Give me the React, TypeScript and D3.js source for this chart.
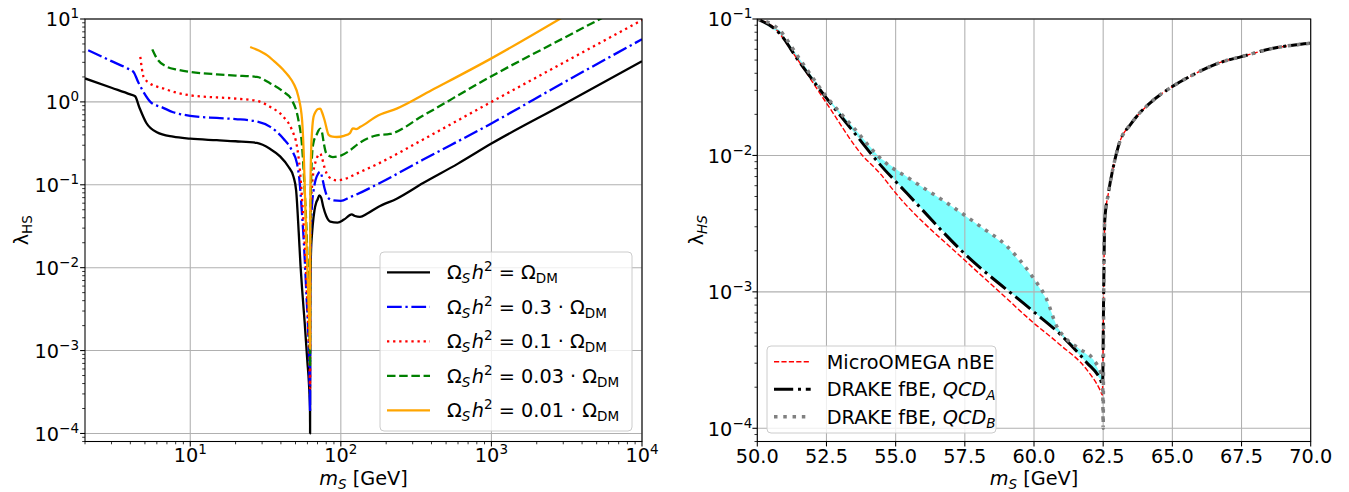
import * as d3 from "d3";

const FONT = "'DejaVu Sans', 'Liberation Sans', sans-serif";
const FS = 19.3;
const SUB = 13.5;
const SUP_DY = 8;

// ---- left panel: relic density scans, lambda_HS vs m_S (log-log)
const massDM = [2, 3, 4, 4.3, 4.6, 5.1, 6, 7.7, 10, 15, 20, 27.7, 34, 39.5, 44.9, 48.5, 50.5, 52.5, 54, 55.4, 57.5, 60, 61, 61.9, 62.4, 62.5, 62.53, 62.6, 62.9, 63.5, 64.2, 65, 66.8, 68.6, 70, 72, 74, 76.5, 80, 85, 95, 105, 118, 124, 134, 150, 177, 235, 352, 600, 1000, 3000, 10000];
const lambdaDM = [1.92, 1.48, 1.23, 1.17, 0.85, 0.56, 0.43, 0.38, 0.36, 0.345, 0.335, 0.32, 0.27, 0.22, 0.165, 0.125, 0.085, 0.027, 0.0105, 0.0053, 0.0022, 7.2e-4, 4.9e-4, 3.0e-4, 2.0e-4, 1.0e-4, 1.1e-3, 4e-3, 8.3e-3, 0.0173, 0.0242, 0.032, 0.049, 0.061, 0.066, 0.0745, 0.07, 0.054, 0.042, 0.036, 0.035, 0.038, 0.044, 0.042, 0.041, 0.045, 0.054, 0.068, 0.105, 0.18, 0.314, 0.93, 3.1];

const mass03 = [2.1, 3, 3.8, 4.2, 4.5, 4.9, 5.5, 6.5, 7.7, 10, 15, 20, 27.7, 34, 41.6, 47.3, 51.2, 53.2, 55, 57, 59, 61, 62, 62.5, 62.55, 62.8, 63.5, 64.5, 65.9, 68, 70.5, 73, 75, 78, 82, 88.5, 100, 115, 124, 183, 350, 1000, 3000, 10000];
const lambda03 = [4.2, 3.1, 2.55, 2.3, 1.75, 1.31, 0.98, 0.86, 0.75, 0.68, 0.64, 0.62, 0.58, 0.5, 0.36, 0.26, 0.18, 0.11, 0.05, 0.018, 0.005, 1.3e-3, 4e-4, 1.8e-4, 2e-3, 0.012, 0.035, 0.06, 0.085, 0.115, 0.135, 0.143, 0.125, 0.09, 0.07, 0.065, 0.064, 0.071, 0.075, 0.106, 0.2, 0.55, 1.7, 5.7];

const mass01 = [4.66, 4.9, 5.4, 6.65, 8, 10, 19.4, 27.7, 34, 41.6, 47.3, 51.2, 53.5, 55.5, 57.5, 59.5, 61.2, 62.1, 62.5, 62.55, 62.8, 63.5, 64.5, 66, 68, 70.5, 73, 75, 78, 83, 94, 110, 124, 183, 350, 1000, 3000, 10000];
const lambda01 = [3.5, 2.0, 1.67, 1.45, 1.3, 1.2, 1.1, 1.03, 0.87, 0.66, 0.46, 0.286, 0.15, 0.06, 0.02, 0.005, 1.3e-3, 6e-4, 3.5e-4, 3e-3, 0.02, 0.06, 0.1, 0.15, 0.19, 0.225, 0.238, 0.21, 0.16, 0.125, 0.113, 0.12, 0.133, 0.185, 0.35, 1.0, 2.96, 9.7];

const mass003 = [5.6, 6.0, 7.0, 8.2, 10, 15, 20, 27.7, 34, 41.6, 47.3, 52.3, 55.3, 57.3, 59.3, 61, 62, 62.5, 62.55, 62.8, 63.5, 64.5, 66, 69, 71, 73, 75, 77, 80, 88.5, 100, 115, 130, 173, 212, 350, 980, 3000, 5600];
const lambda003 = [4.3, 3.35, 2.65, 2.45, 2.3, 2.15, 2.08, 2.0, 1.67, 1.32, 1.05, 0.6, 0.29, 0.1, 0.025, 5e-3, 1.5e-3, 6.3e-4, 5e-3, 0.04, 0.12, 0.24, 0.33, 0.4, 0.45, 0.477, 0.43, 0.32, 0.24, 0.216, 0.225, 0.26, 0.31, 0.395, 0.41, 0.68, 2.0, 5.85, 10.6];

const mass001 = [25, 29, 32.3, 36, 41.6, 45, 48.5, 52.3, 55.3, 56.7, 58, 59.5, 61, 62, 62.5, 62.55, 62.8, 63.5, 64.5, 65.9, 68, 70.5, 73, 75, 78, 83, 88, 94, 105, 115, 120, 126, 135, 178, 235, 400, 1000, 3000];
const lambda001 = [4.6, 4.1, 3.67, 3.1, 2.42, 2.05, 1.67, 1.15, 0.6, 0.24, 0.06, 0.015, 4e-3, 1.8e-3, 1.05e-3, 0.01, 0.08, 0.25, 0.46, 0.66, 0.76, 0.82, 0.83, 0.75, 0.6, 0.4, 0.38, 0.377, 0.39, 0.42, 0.48, 0.47, 0.5, 0.69, 0.83, 1.38, 3.35, 10.6];

const omegaFractions = ["", "0.3", "0.1", "0.03", "0.01"];

// ---- right panel: zoom on the Higgs resonance (linear x, log y)
const massMicro = [50, 50.7, 51.2, 52.5, 53.8, 54.43, 55.0, 57.45, 58.8, 59.97, 60.94, 61.9, 62.39, 62.47];
const lambdaMicro = [0.1, 0.083, 0.06, 0.0242, 0.01, 0.0074, 0.0053, 0.00174, 0.00098, 5.96e-4, 4.1e-4, 2.7e-4, 1.9e-4, 1.75e-4];

const massDrakeA = [50, 50.8, 51.5, 52.5, 53.5, 54.43, 55.4, 57.45, 59.97, 60.94, 61.9, 62.39, 62.48];
const lambdaDrakeA = [0.1, 0.0786, 0.049, 0.0263, 0.0147, 0.0086, 0.0053, 0.00194, 7.2e-4, 4.9e-4, 3.04e-4, 2.3e-4, 2.1e-4];

const massDrakeB = [50, 50.8, 51.5, 52.5, 53.5, 54.43, 55.64, 56.84, 58.05, 59.01, 59.97, 60.46, 60.82, 61.18, 61.66, 62.14, 62.48, 62.5];
const lambdaDrakeB = [0.1, 0.083, 0.052, 0.027, 0.0158, 0.0096, 0.00647, 0.0045, 0.00303, 0.00217, 0.00127, 8.8e-4, 5.6e-4, 4.5e-4, 3.8e-4, 3.2e-4, 2.3e-4, 1.0e-4];

// branch above the resonance, shared by all three calculations
const massRise = [62.52, 62.56, 62.69, 62.87, 63.05, 63.53, 64.19, 65.0, 65.64, 66.84, 67.5, 68.65, 70];
const lambdaRise = [1.1e-3, 3.4e-3, 5.3e-3, 8.3e-3, 0.0117, 0.0173, 0.0242, 0.032, 0.038, 0.0488, 0.053, 0.061, 0.0664];

const leftXTicks = [10, 100, 1000, 10000];
const leftYTicks = [1e-4, 1e-3, 1e-2, 1e-1, 1, 10];
const rightXTicks = [50, 52.5, 55, 57.5, 60, 62.5, 65, 67.5, 70];
const rightYTicks = [1e-4, 1e-3, 1e-2, 1e-1];

const zip = (m: number[], l: number[]) => m.map((v, i) => [v, l[i]] as [number, number]);

const GRID = "#b0b0b0";

function Pow({ x, y, v, anchor }: { x: number; y: number; v: number; anchor: string }) {
  const e = Math.round(Math.log10(v));
  const s = e < 0 ? `\u2212${-e}` : `${e}`;
  return (
    <text x={x} y={y} textAnchor={anchor} fontFamily={FONT} fontSize={FS} fill="#000">
      10<tspan fontSize={SUB} dy={-SUP_DY}>{s}</tspan>
    </text>
  );
}

function LeftLegendLabel({ x, y, coef }: { x: number; y: number; coef: string }) {
  return (
    <text x={x} y={y} fontFamily={FONT} fontSize={FS} fill="#000">
      Ω<tspan fontSize={SUB} fontStyle="italic" dy={4}>S</tspan>
      <tspan fontStyle="italic" dy={-4} dx={1.5}>h</tspan>
      <tspan fontSize={SUB} dy={-SUP_DY}>2</tspan>
      <tspan dy={SUP_DY}>{` = ${coef ? coef + " · " : ""}Ω`}</tspan>
      <tspan fontSize={SUB} dy={4}>DM</tspan>
    </text>
  );
}

function MassLabel({ x }: { x: number }) {
  return (
    <text x={x} y={485} textAnchor="middle" fontFamily={FONT} fontSize={FS} fill="#000">
      <tspan fontStyle="italic">m</tspan>
      <tspan fontSize={SUB} fontStyle="italic" dy={3.5}>S</tspan>
      <tspan dy={-3.5}> [GeV]</tspan>
    </text>
  );
}

export default function App() {
  // panel frames
  const L = { x0: 85, x1: 642, y0: 19, y1: 441.5 };
  const R = { x0: 757.3, x1: 1310.7, y0: 19, y1: 441.5 };

  const xL = d3.scaleLog().domain([2, 1e4]).range([L.x0, L.x1]);
  const yL = d3.scaleLog().domain([8e-5, 10]).range([L.y1, L.y0]);
  const xR = d3.scaleLinear().domain([50, 70]).range([R.x0, R.x1]);
  const yR = d3.scaleLog().domain([8e-5, 0.1]).range([R.y1, R.y0]);

  const lineL = d3.line<[number, number]>().x((d) => xL(d[0])).y((d) => yL(d[1])).curve(d3.curveMonotoneX);
  const lineR = d3.line<[number, number]>().x((d) => xR(d[0])).y((d) => yR(d[1])).curve(d3.curveMonotoneX);
  const polyR = d3.line<[number, number]>().x((d) => xR(d[0])).y((d) => yR(d[1]));

  const lw = 2.3;
  const leftCurves = [
    { pts: zip(massDM, lambdaDM), color: "#000000", dash: undefined },
    { pts: zip(mass03, lambda03), color: "#0000ff", dash: `${6.4 * lw} ${1.6 * lw} ${1 * lw} ${1.6 * lw}` },
    { pts: zip(mass01, lambda01), color: "#ff0000", dash: `${lw} ${1.65 * lw}` },
    { pts: zip(mass003, lambda003), color: "#008000", dash: `${3.7 * lw} ${1.6 * lw}` },
    { pts: zip(mass001, lambda001), color: "#ffa500", dash: undefined },
  ];

  const rise = zip(massRise, lambdaRise);
  const ptsMicro = zip(massMicro, lambdaMicro).concat(rise);
  const ptsA = zip(massDrakeA, lambdaDrakeA).concat(rise);
  const ptsB = zip(massDrakeB, lambdaDrakeB).concat(rise);
  const band = zip(massDrakeB, lambdaDrakeB).concat(zip(massDrakeA, lambdaDrakeA).reverse());

  const rightCurves = [
    { pts: ptsMicro, color: "#ff0000", width: 1.4, dash: `${3.7 * 1.4} ${1.6 * 1.4}` },
    { pts: ptsA, color: "#000000", width: 3, dash: `${6.4 * 3} ${1.6 * 3} ${3} ${1.6 * 3}` },
    { pts: ptsB, color: "#808080", width: 3.5, dash: `${3.5} ${1.65 * 3.5}` },
  ];
  const rightLabels = ["MicroOMEGA nBE", "DRAKE fBE, ", "DRAKE fBE, "];
  const rightSubs = ["", "A", "B"];

  const minorL_x = xL.ticks().filter((t) => !leftXTicks.includes(t) && t >= 2);
  const minorL_y = yL.ticks().filter((t) => !leftYTicks.some((m) => Math.abs(m - t) / m < 1e-6));
  const minorR_y = yR.ticks().filter((t) => !rightYTicks.some((m) => Math.abs(m - t) / m < 1e-6));

  const tickMajor = 4.9;
  const tickMinor = 2.8;
  const tickY = 462;

  return (
    <svg
      width={1349}
      height={492}
      viewBox="0 0 1349 492"
      style={{ position: "absolute", left: 0, top: 0, display: "block", background: "#fff" }}
    >
      <defs>
        <clipPath id="clipL">
          <rect x={L.x0} y={L.y0} width={L.x1 - L.x0} height={L.y1 - L.y0} />
        </clipPath>
        <clipPath id="clipR">
          <rect x={R.x0} y={R.y0} width={R.x1 - R.x0} height={R.y1 - R.y0} />
        </clipPath>
      </defs>
      <rect x={0} y={0} width={1349} height={492} fill="#fff" />

      {/* ================= LEFT PANEL ================= */}
      <g>
        {leftXTicks.map((t) => (
          <line key={"gx" + t} x1={xL(t)} x2={xL(t)} y1={L.y0} y2={L.y1} stroke={GRID} strokeWidth={1.07} />
        ))}
        {leftYTicks.map((t) => (
          <line key={"gy" + t} x1={L.x0} x2={L.x1} y1={yL(t)} y2={yL(t)} stroke={GRID} strokeWidth={1.07} />
        ))}
        <g clipPath="url(#clipL)">
          {leftCurves.map((c, i) => (
            <path
              key={i}
              d={lineL(c.pts) ?? ""}
              fill="none"
              stroke={c.color}
              strokeWidth={lw}
              strokeDasharray={c.dash}
              strokeLinejoin="round"
            />
          ))}
        </g>
        <rect x={L.x0} y={L.y0} width={L.x1 - L.x0} height={L.y1 - L.y0} fill="none" stroke="#000" strokeWidth={1.07} />
        {leftXTicks.map((t) => (
          <g key={"tx" + t}>
            <line x1={xL(t)} x2={xL(t)} y1={L.y1} y2={L.y1 + tickMajor} stroke="#000" strokeWidth={1.07} />
            <Pow x={xL(t)} y={tickY} v={t} anchor="middle" />
          </g>
        ))}
        {minorL_x.map((t, i) => (
          <line key={"mx" + i} x1={xL(t)} x2={xL(t)} y1={L.y1} y2={L.y1 + tickMinor} stroke="#000" strokeWidth={0.8} />
        ))}
        {leftYTicks.map((t) => (
          <g key={"ty" + t}>
            <line x1={L.x0 - tickMajor} x2={L.x0} y1={yL(t)} y2={yL(t)} stroke="#000" strokeWidth={1.07} />
            <Pow x={L.x0 - 6} y={yL(t) + 7.3} v={t} anchor="end" />
          </g>
        ))}
        {minorL_y.map((t, i) => (
          <line key={"my" + i} x1={L.x0 - tickMinor} x2={L.x0} y1={yL(t)} y2={yL(t)} stroke="#000" strokeWidth={0.8} />
        ))}
        <MassLabel x={(L.x0 + L.x1) / 2} />
        <text transform={`translate(28,${(L.y0 + L.y1) / 2}) rotate(-90)`} textAnchor="middle" fontFamily={FONT} fontSize={FS} fill="#000">
          λ<tspan fontSize={SUB} dy={4}>HS</tspan>
        </text>

        {/* legend */}
        <rect x={380} y={252} width={252} height={179} rx={4} fill="#fff" fillOpacity={0.8} stroke="#cccccc" strokeWidth={1} />
        {leftCurves.map((c, i) => {
          const yy = 272.3 + i * 34.5;
          return (
            <g key={"lg" + i}>
              <line x1={387} x2={430} y1={yy} y2={yy} stroke={c.color} strokeWidth={lw} strokeDasharray={c.dash} />
              <LeftLegendLabel x={447} y={yy + 7} coef={omegaFractions[i]} />
            </g>
          );
        })}
      </g>

      {/* ================= RIGHT PANEL ================= */}
      <g>
        <g clipPath="url(#clipR)">
          <path d={(polyR(band) ?? "") + "Z"} fill="#00ffff" fillOpacity={0.5} stroke="none" />
        </g>
        {rightXTicks.map((t) => (
          <line key={"rgx" + t} x1={xR(t)} x2={xR(t)} y1={R.y0} y2={R.y1} stroke={GRID} strokeWidth={1.07} />
        ))}
        {rightYTicks.map((t) => (
          <line key={"rgy" + t} x1={R.x0} x2={R.x1} y1={yR(t)} y2={yR(t)} stroke={GRID} strokeWidth={1.07} />
        ))}
        <g clipPath="url(#clipR)">
          {rightCurves.map((c, i) => (
            <path
              key={i}
              d={lineR(c.pts) ?? ""}
              fill="none"
              stroke={c.color}
              strokeWidth={c.width}
              strokeDasharray={c.dash}
              strokeLinejoin="round"
            />
          ))}
        </g>
        <rect x={R.x0} y={R.y0} width={R.x1 - R.x0} height={R.y1 - R.y0} fill="none" stroke="#000" strokeWidth={1.07} />
        {rightXTicks.map((t) => (
          <g key={"rtx" + t}>
            <line x1={xR(t)} x2={xR(t)} y1={R.y1} y2={R.y1 + tickMajor} stroke="#000" strokeWidth={1.07} />
            <text x={xR(t)} y={tickY + 1} textAnchor="middle" fontFamily={FONT} fontSize={FS} fill="#000">
              {d3.format(".1f")(t)}
            </text>
          </g>
        ))}
        {rightYTicks.map((t) => (
          <g key={"rty" + t}>
            <line x1={R.x0 - tickMajor} x2={R.x0} y1={yR(t)} y2={yR(t)} stroke="#000" strokeWidth={1.07} />
            <Pow x={R.x0 - 5} y={yR(t) + 7.3} v={t} anchor="end" />
          </g>
        ))}
        {minorR_y.map((t, i) => (
          <line key={"rmy" + i} x1={R.x0 - tickMinor} x2={R.x0} y1={yR(t)} y2={yR(t)} stroke="#000" strokeWidth={0.8} />
        ))}
        <MassLabel x={(R.x0 + R.x1) / 2} />
        <text transform={`translate(703,${(R.y0 + R.y1) / 2}) rotate(-90)`} textAnchor="middle" fontFamily={FONT} fontSize={FS} fill="#000">
          λ<tspan fontSize={SUB} fontStyle="italic" dy={4}>HS</tspan>
        </text>

        {/* legend */}
        <rect x={767} y={346} width={229} height={87} rx={4} fill="#fff" fillOpacity={0.8} stroke="#cccccc" strokeWidth={1} />
        {rightCurves.map((c, i) => {
          const yy = 361.7 + i * 27.5;
          return (
            <g key={"rl" + i}>
              <line x1={774} x2={810.7} y1={yy} y2={yy} stroke={c.color} strokeWidth={c.width} strokeDasharray={c.dash} />
              <text x={826.7} y={yy + 6.8} fontFamily={FONT} fontSize={FS} fill="#000">
                {rightLabels[i]}
                {rightSubs[i] && (
                  <>
                    <tspan fontStyle="italic">QCD</tspan>
                    <tspan fontStyle="italic" fontSize={SUB} dy={4}>{rightSubs[i]}</tspan>
                  </>
                )}
              </text>
            </g>
          );
        })}
      </g>
    </svg>
  );
}
